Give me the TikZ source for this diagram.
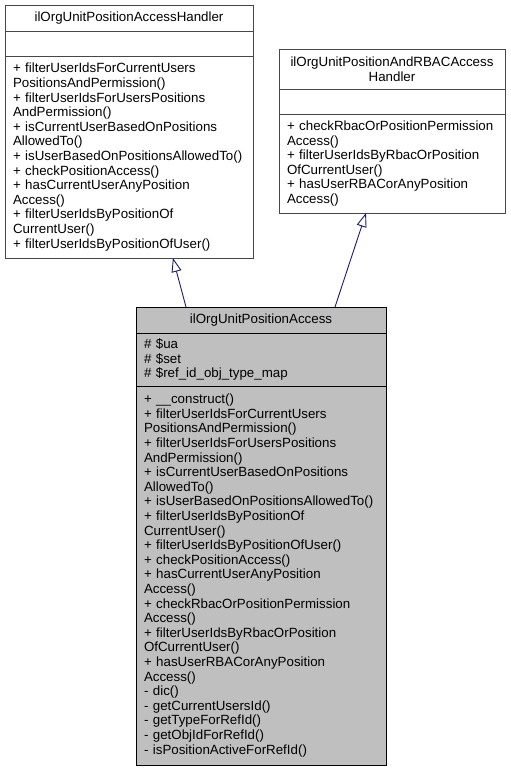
\documentclass[tikz,border=0pt]{standalone}
\usepackage{fontspec}
\setmainfont{Liberation Sans}
\usetikzlibrary{arrows.meta,calc}
\definecolor{edgeblue}{RGB}{25,25,112}
\definecolor{boxgray}{RGB}{191,191,191}
\tikzset{
  sec/.style={draw=black!72, line width=0.9pt, anchor=north west, outer sep=0pt,
    inner xsep=8pt, inner ysep=0pt, font=\fontsize{13.33}{14.6}\selectfont},
  lsec/.style={sec, align=left, text width=#1-16pt, minimum width=#1},
  csec/.style={sec, align=center, text width=#1-16pt, minimum width=#1},
  cur/.style={fill=boxgray, draw=black},
  inh/.style={draw=edgeblue, line width=0.9pt, -{Triangle[open, length=14pt, width=10pt]}}
}
\begin{document}
\begin{tikzpicture}[x=1pt, y=-1pt]
\useasboundingbox (0,0) rectangle (511,771);
% Box 1
\node[csec=248pt, minimum height=26pt] (h1t) at (5,5) {ilOrgUnitPositionAccessHandler};
\node[lsec=248pt, minimum height=25pt] (h1a) at (5,31) {};
\node[lsec=248pt, minimum height=202pt] (h1m) at (5,56) {+~filterUserIdsForCurrentUsers\\PositionsAndPermission()\\+~filterUserIdsForUsersPositions\\AndPermission()\\+~isCurrentUserBasedOnPositions\\AllowedTo()\\+~isUserBasedOnPositionsAllowedTo()\\+~checkPositionAccess()\\+~hasCurrentUserAnyPosition\\Access()\\+~filterUserIdsByPositionOf\\CurrentUser()\\+~filterUserIdsByPositionOfUser()};
% Box 2
\node[csec=226pt, minimum height=40pt] (h2t) at (279,49) {ilOrgUnitPositionAndRBACAccess\\Handler};
\node[lsec=226pt, minimum height=25pt] (h2a) at (279,89) {};
\node[lsec=226pt, minimum height=99pt] (h2m) at (279,114) {+~checkRbacOrPositionPermission\\Access()\\+~filterUserIdsByRbacOrPosition\\OfCurrentUser()\\+~hasUserRBACorAnyPosition\\Access()};
% Box 3
\node[csec=250pt, cur, minimum height=26pt] (ct) at (136,307) {ilOrgUnitPositionAccess};
\node[lsec=250pt, cur, minimum height=53pt] (ca) at (136,333) {\#~\$ua\\\#~\$set\\\#~\$ref\_id\_obj\_type\_map};
\node[lsec=250pt, cur, minimum height=379pt] (cm) at (136,386) {+~\_\_construct()\\+~filterUserIdsForCurrentUsers\\PositionsAndPermission()\\+~filterUserIdsForUsersPositions\\AndPermission()\\+~isCurrentUserBasedOnPositions\\AllowedTo()\\+~isUserBasedOnPositionsAllowedTo()\\+~filterUserIdsByPositionOf\\CurrentUser()\\+~filterUserIdsByPositionOfUser()\\+~checkPositionAccess()\\+~hasCurrentUserAnyPosition\\Access()\\+~checkRbacOrPositionPermission\\Access()\\+~filterUserIdsByRbacOrPosition\\OfCurrentUser()\\+~hasUserRBACorAnyPosition\\Access()\\-~dic()\\-~getCurrentUsersId()\\-~getTypeForRefId()\\-~getObjIdForRefId()\\-~isPositionActiveForRefId()};
% Inheritance
\draw[inh] ($(ct.north west)!0.2!(ct.north east)$) -- ($(h1m.south west)!0.677!(h1m.south east)$);
\draw[inh] ($(ct.north west)!0.796!(ct.north east)$) -- ($(h2m.south west)!0.385!(h2m.south east)$);
\end{tikzpicture}
\end{document}
